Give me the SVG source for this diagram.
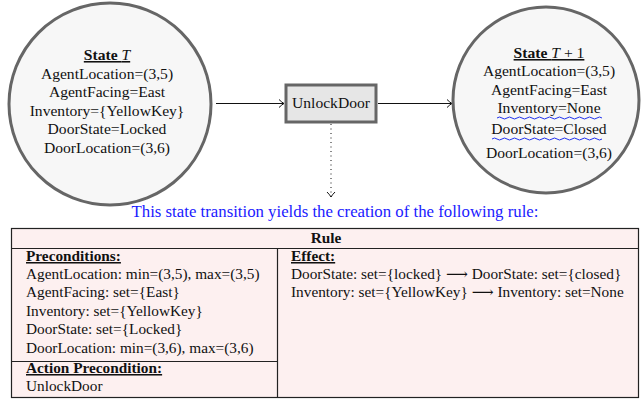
<svg xmlns="http://www.w3.org/2000/svg" width="642" height="402" viewBox="0 0 642 402">
<style>
text{font-family:"Liberation Serif","DejaVu Serif",serif;font-size:15.3px;fill:#111}
.c{text-anchor:middle}
.b{font-weight:bold}
.u{text-decoration:underline}
.s{font-size:15.6px}
.state{fill:#f7f7f7;stroke:#666;stroke-width:3}
.edge{stroke:#111;stroke-width:1;fill:none}
.wave{stroke:#2233ee;stroke-width:1;fill:none}
</style>
<defs>
<marker id="ah" viewBox="0 0 10 10" refX="9" refY="5" markerWidth="10" markerHeight="10" markerUnits="userSpaceOnUse" orient="auto">
<path d="M4,1 Q7,4 9,5 Q7,6 4,9" fill="none" stroke="#111" stroke-width="1"/>
</marker>
</defs>
<g id="connectors">
<line class="edge" x1="216" y1="103.5" x2="284" y2="103.5" marker-end="url(#ah)"/>
<line class="edge" x1="378" y1="103.5" x2="452" y2="103.5" marker-end="url(#ah)"/>
<line class="edge" x1="331" y1="124" x2="331" y2="197" stroke-dasharray="1,3.5" marker-end="url(#ah)"/>
</g>
<g id="stateT">
<circle class="state" cx="110" cy="104" r="101"/>
<text class="c b u s" x="107" y="60">State <tspan font-style="italic" font-weight="normal">T</tspan></text>
<text class="c s" x="107" y="79">AgentLocation=(3,5)</text>
<text class="c s" x="107" y="97">AgentFacing=East</text>
<text class="c s" x="107" y="116">Inventory={YellowKey}</text>
<text class="c s" x="107" y="134">DoorState=Locked</text>
<text class="c s" x="107" y="153">DoorLocation=(3,6)</text>
</g>
<g id="action">
<rect x="286" y="85" width="90" height="37" fill="#e6e6e6" stroke="#666" stroke-width="3"/>
<text class="c s" x="331" y="108">UnlockDoor</text>
</g>
<g id="stateT1">
<circle class="state" cx="546" cy="100" r="93"/>
<text class="c b u s" x="549" y="58">State <tspan font-style="italic" font-weight="normal">T</tspan><tspan font-weight="normal"> + 1</tspan></text>
<text class="c s" x="549" y="76">AgentLocation=(3,5)</text>
<text class="c s" x="549" y="95">AgentFacing=East</text>
<text class="c s" x="549" y="113">Inventory=None</text>
<path class="wave" d="M497,118 q2.5,-2 5,0 t5,0 t5,0 t5,0 t5,0 t5,0 t5,0 t5,0 t5,0 t5,0 t5,0 t5,0 t5,0 t5,0 t5,0 t5,0 t5,0 t5,0 t5,0 t5,0 t5,0"/>
<text class="c s" x="549" y="134">DoorState=Closed</text>
<path class="wave" d="M492,139 q2.5,-2 5,0 t5,0 t5,0 t5,0 t5,0 t5,0 t5,0 t5,0 t5,0 t5,0 t5,0 t5,0 t5,0 t5,0 t5,0 t5,0 t5,0 t5,0 t5,0 t5,0 t5,0 t5,0"/>
<text class="c s" x="549" y="158">DoorLocation=(3,6)</text>
</g>
<text class="c" x="335" y="217" style="fill:#1a1aff;font-size:16.8px">This state transition yields the creation of the following rule:</text>
<g id="rule">
<rect x="11.5" y="228.5" width="627" height="169" fill="#fdf0f0" stroke="#222" stroke-width="1.2"/>
<line x1="11.5" y1="248.5" x2="638.5" y2="248.5" stroke="#222" stroke-width="1.2"/>
<line x1="277.5" y1="248.5" x2="277.5" y2="397.5" stroke="#222" stroke-width="1.2"/>
<line x1="11.5" y1="361.5" x2="277.5" y2="361.5" stroke="#222" stroke-width="1.2"/>
<text class="c b" x="326" y="243">Rule</text>
<text class="b u" x="26" y="261">Preconditions:</text>
<text x="26" y="279">AgentLocation: min=(3,5), max=(3,5)</text>
<text x="26" y="297">AgentFacing: set={East}</text>
<text x="26" y="316">Inventory: set={YellowKey}</text>
<text x="26" y="334">DoorState: set={Locked}</text>
<text x="26" y="353">DoorLocation: min=(3,6), max=(3,6)</text>
<text class="b u" x="26" y="373">Action Precondition:</text>
<text x="26" y="391">UnlockDoor</text>
<text class="b u" x="291" y="261">Effect:</text>
<text x="291" y="279">DoorState: set={locked} ⟶ DoorState: set={closed}</text>
<text x="291" y="297">Inventory: set={YellowKey} ⟶ Inventory: set=None</text>
</g>
</svg>
